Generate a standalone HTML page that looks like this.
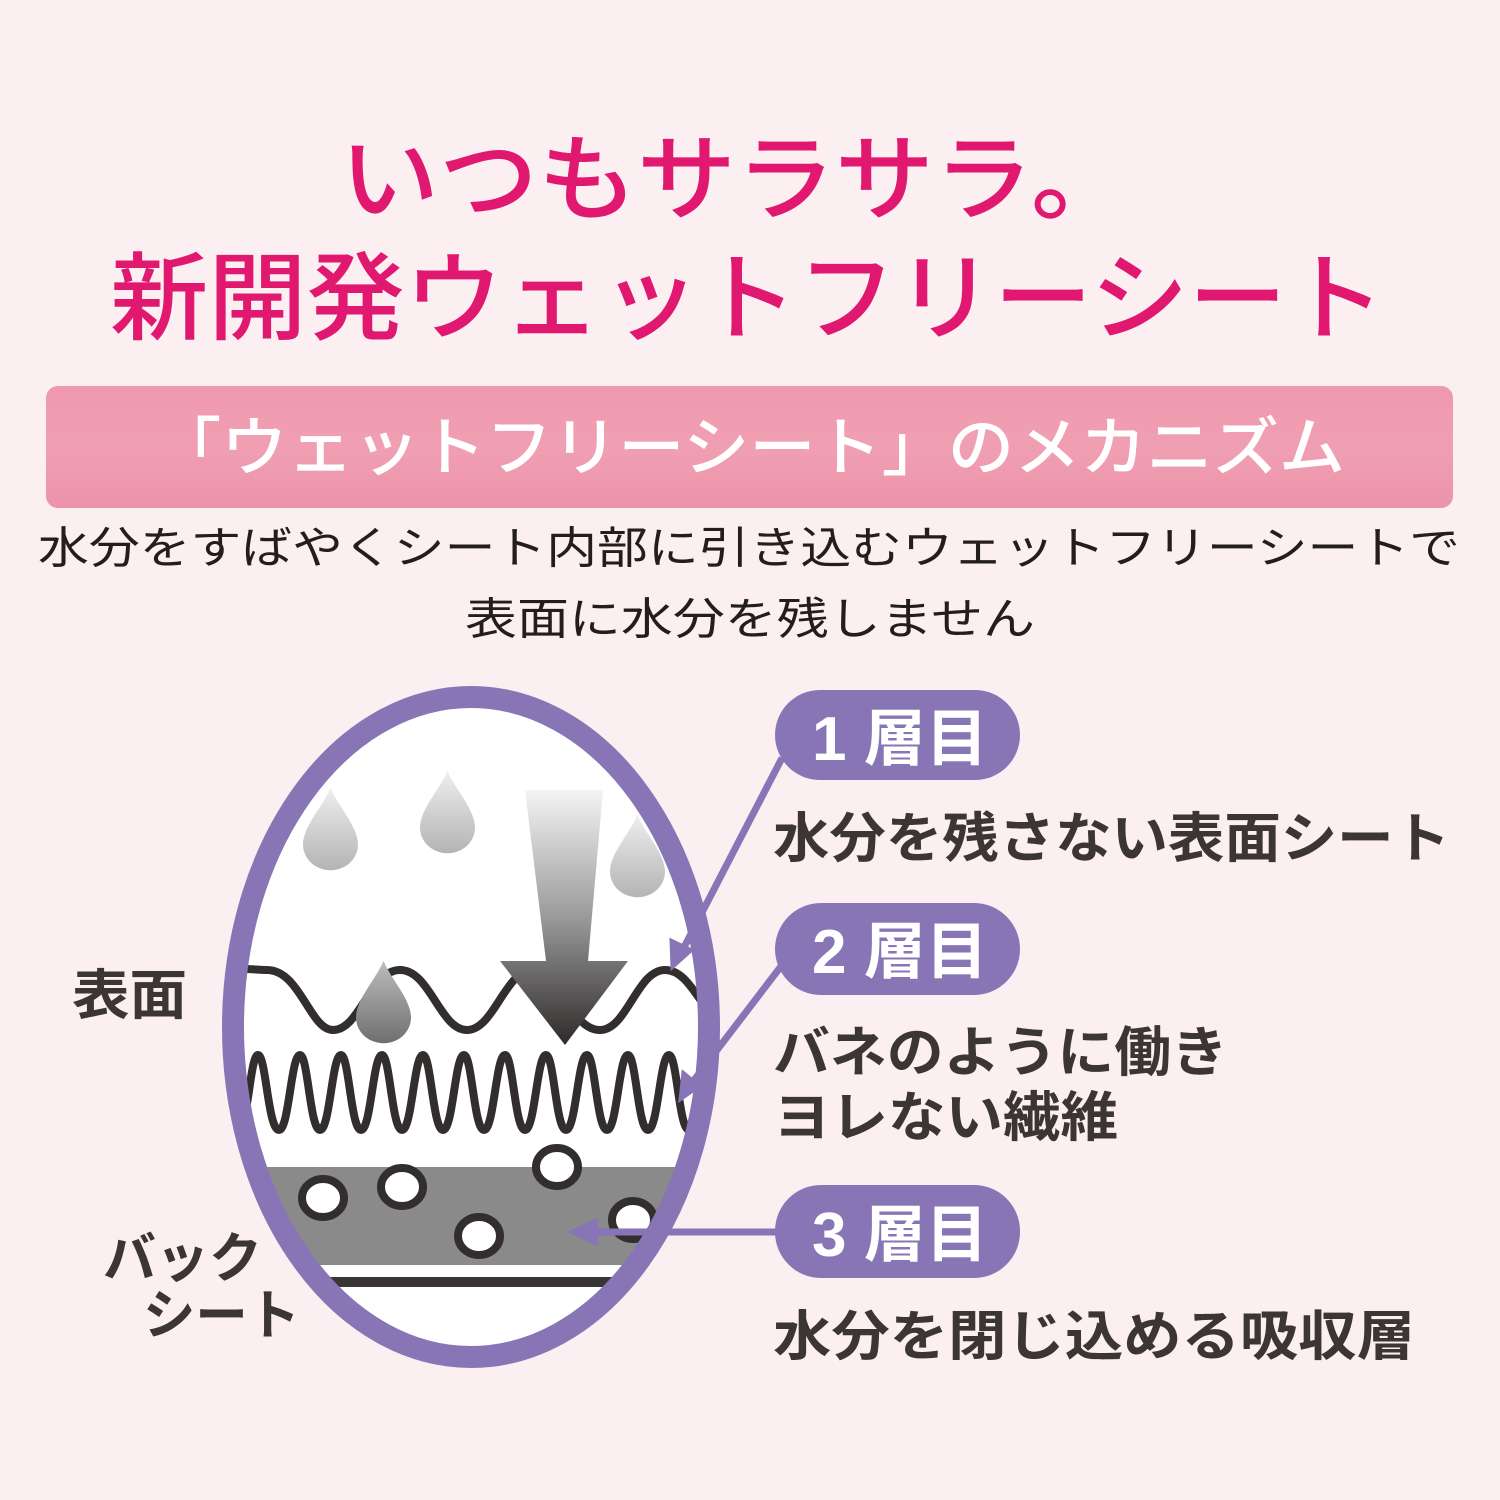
<!DOCTYPE html>
<html><head><meta charset="utf-8"><style>
html,body{margin:0;padding:0;background:#fbeff2;}
svg{display:block}
text{font-family:"Liberation Sans","Noto Sans CJK JP",sans-serif;}
</style></head><body>
<svg width="1500" height="1500" viewBox="0 0 1500 1500" xmlns="http://www.w3.org/2000/svg">
<defs>
<linearGradient id="ban" x1="0" y1="0" x2="0" y2="1"><stop offset="0" stop-color="#ef98ae"/><stop offset="0.5" stop-color="#f09fb3"/><stop offset="1" stop-color="#ec93aa"/></linearGradient>
<linearGradient id="arr" x1="0" y1="0" x2="0" y2="1"><stop offset="0" stop-color="#f4f4f4"/><stop offset="0.5" stop-color="#9a9a9a"/><stop offset="1" stop-color="#2e2a2a"/></linearGradient>
<linearGradient id="drop" x1="0" y1="0" x2="0" y2="1"><stop offset="0" stop-color="#eeeeee"/><stop offset="1" stop-color="#b4b4b4"/></linearGradient>
<linearGradient id="drop2" x1="0" y1="0" x2="0" y2="1"><stop offset="0" stop-color="#bdbdbd"/><stop offset="1" stop-color="#6f6f6f"/></linearGradient>
<clipPath id="ec"><ellipse cx="471" cy="1027" rx="238" ry="330"/></clipPath>
<symbol id="dp" viewBox="0 0 60 90"><path d="M30 0 C38 20 60 42 60 62 A30 28 0 0 1 0 62 C0 42 22 20 30 0Z"/></symbol>
</defs>
<g fill="#e0186f" font-weight="500">
<text x="340" y="212" font-size="94" textLength="790" lengthAdjust="spacingAndGlyphs">いつもサラサラ。</text>
<text x="110" y="332" font-size="96" textLength="1275" lengthAdjust="spacingAndGlyphs">新開発ウェットフリーシート</text>
</g>
<rect x="46" y="386" width="1407" height="122" rx="12" fill="url(#ban)"/>
<text x="155" y="470" font-size="64" fill="#fff" font-weight="500" textLength="1190" lengthAdjust="spacingAndGlyphs">「ウェットフリーシート」のメカニズム</text>
<g fill="#231d1d" font-size="44">
<text x="38" y="563" textLength="1422" lengthAdjust="spacingAndGlyphs">水分をすばやくシート内部に引き込むウェットフリーシートで</text>
<text x="465" y="634" textLength="570" lengthAdjust="spacingAndGlyphs">表面に水分を残しません</text>
</g>
<ellipse cx="471" cy="1027" rx="238" ry="330" fill="#fff"/>
<g clip-path="url(#ec)">
<rect x="200" y="1167" width="560" height="98" fill="#8a8a8a"/>
<rect x="200" y="1277" width="560" height="10" fill="#3a3535"/>
<g fill="#fff" stroke="#332e2e" stroke-width="8">
<ellipse cx="323" cy="1198" rx="21" ry="19"/><ellipse cx="402" cy="1187" rx="21" ry="19"/><ellipse cx="557" cy="1167" rx="21" ry="19"/><ellipse cx="479" cy="1236" rx="21" ry="19"/><ellipse cx="633" cy="1220" rx="21" ry="19"/>
</g>
<path fill="none" stroke="#332e2e" stroke-width="8" d="M200 1002 C220 960 245 970 267 970 C300 970 310 1030 333 1030 C360 1030 370 970 400 970 C430 970 440 1030 467 1030 C494 1030 505 970 533 970 C560 970 570 1030 600 1030 C627 1030 637 970 665 970 C690 970 700 1010 720 1020"/>
<path fill="none" stroke="#332e2e" stroke-width="8" stroke-linejoin="round" d="M238 1130 C248 1130 250 1055 258 1055 C266 1055 268 1130 279 1130 C289 1130 291 1055 300 1055 C308 1055 310 1130 320 1130 C330 1130 332 1055 341 1055 C349 1055 351 1130 361 1130 C371 1130 373 1055 382 1055 C390 1055 392 1130 402 1130 C412 1130 414 1055 423 1055 C431 1055 433 1130 443 1130 C453 1130 455 1055 464 1055 C472 1055 474 1130 484 1130 C494 1130 496 1055 505 1055 C513 1055 515 1130 525 1130 C535 1130 537 1055 546 1055 C554 1055 556 1130 566 1130 C576 1130 578 1055 587 1055 C595 1055 597 1130 607 1130 C617 1130 619 1055 628 1055 C636 1055 638 1130 648 1130 C658 1130 660 1055 669 1055 C677 1055 679 1130 689 1130 C699 1130 701 1055 710 1055"/>
<use href="#dp" x="303" y="785" width="55" height="88" fill="url(#drop)"/>
<use href="#dp" x="420" y="768" width="55" height="88" fill="url(#drop)"/>
<use href="#dp" x="610" y="812" width="55" height="88" fill="url(#drop)"/>
<use href="#dp" x="356" y="958" width="55" height="88" fill="url(#drop2)"/>
<path d="M525 790 L603 790 L588 961 L628 961 L565 1045 L500 961 L546 961 Z" fill="url(#arr)"/>
</g>
<ellipse cx="471" cy="1027" rx="238" ry="330" fill="none" stroke="#8775b6" stroke-width="22"/>
<g stroke="#8775b6" stroke-width="7" fill="#8775b6">
<line x1="782" y1="758" x2="680" y2="955"/>
<path d="M672 968 L671 940 L692 950 Z" stroke-width="3"/>
<line x1="782" y1="965" x2="688" y2="1088"/>
<path d="M680 1100 L683 1072 L700 1086 Z" stroke-width="3"/>
<line x1="780" y1="1232" x2="590" y2="1232"/>
<path d="M570 1232 L597 1220 L597 1244 Z" stroke-width="3"/>
</g>
<g fill="#8775b6">
<rect x="775" y="690" width="245" height="90" rx="45"/>
<rect x="775" y="903" width="245" height="92" rx="46"/>
<rect x="775" y="1185" width="245" height="93" rx="46"/>
</g>
<g fill="#fff" font-size="62" font-weight="bold">
<text x="812" y="760">1 層目</text>
<text x="812" y="973">2 層目</text>
<text x="812" y="1256">3 層目</text>
</g>
<g fill="#3c3535" font-size="54" font-weight="bold">
<text x="773" y="857" textLength="677" lengthAdjust="spacingAndGlyphs">水分を残さない表面シート</text>
<text x="773" y="1071" textLength="455" lengthAdjust="spacingAndGlyphs">バネのように働き</text>
<text x="773" y="1136" textLength="345" lengthAdjust="spacingAndGlyphs">ヨレない繊維</text>
<text x="773" y="1355" textLength="642" lengthAdjust="spacingAndGlyphs">水分を閉じ込める吸収層</text>
<text x="72" y="1014" textLength="115" lengthAdjust="spacingAndGlyphs">表面</text>
<text x="103" y="1277" textLength="159" lengthAdjust="spacingAndGlyphs">バック</text>
<text x="143" y="1334" textLength="157" lengthAdjust="spacingAndGlyphs">シート</text>
</g>
</svg>
</body></html>
